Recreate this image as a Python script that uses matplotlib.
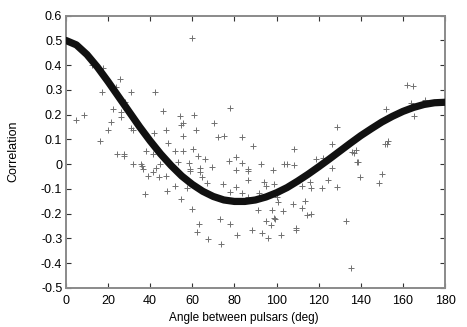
import matplotlib
matplotlib.use("Agg")
import matplotlib.pyplot as plt
from matplotlib.ticker import FuncFormatter

curve_angle = [0, 5, 10, 15, 20, 25, 30, 35, 40, 45, 50, 55, 60, 65, 70, 75, 80, 85, 90,
               95, 100, 105, 110, 115, 120, 125, 130, 135, 140, 145, 150, 155, 160, 165,
               170, 175, 180]
curve_corr = [0.500, 0.482, 0.443, 0.392, 0.334, 0.273, 0.212, 0.151, 0.094, 0.041, -0.006,
              -0.048, -0.082, -0.110, -0.131, -0.145, -0.151, -0.151, -0.145, -0.133, -0.116,
              -0.095, -0.069, -0.041, -0.011, 0.020, 0.052, 0.084, 0.115, 0.143, 0.170, 0.193,
              0.213, 0.229, 0.241, 0.248, 0.250]

# measured pulsar pairs
pair_angle = [4.7, 8.7, 12.2, 17.4, 17.3, 16.3, 20.1, 21.4, 22.4, 25.7, 26.0, 26.4, 24.2,
              27.6, 27.7, 30.9, 30.9, 32.1, 32.0, 35.8, 36.2, 36.8, 37.9, 37.8, 39.1, 41.2,
              41.8, 41.5, 42.5, 43.0, 44.5, 44.2, 24.0, 28.0,
              46.1, 47.5, 47.5, 48.3, 48.2, 51.8, 51.9, 53.0, 54.1, 54.6, 55.4, 55.4, 55.7,
              54.8, 57.4, 58.6, 59.0, 59.0, 59.7, 60.5, 60.9, 61.7, 60.1, 62.8, 63.8, 63.9,
              63.0, 62.2, 64.7, 66.0, 66.9, 67.3, 69.5,
              70.4, 72.4, 73.1, 73.6, 74.4, 75.2, 77.6, 77.9, 77.9, 78.0, 80.6, 81.0, 81.0,
              81.1, 83.4, 83.4, 83.7, 86.3, 86.3, 86.3, 86.6, 88.2, 88.9, 91.5, 91.4, 92.6,
              92.9, 94.2, 95.0, 95.0, 95.8,
              97.3, 97.9, 98.4, 98.8, 98.8, 99.3, 100.0, 100.8, 101.9, 103.2, 103.5, 104.8,
              107.6, 108.3, 108.4, 109.2, 109.4, 111.9, 111.9, 113.6, 114.3, 115.9, 116.6,
              116.3, 118.7,
              121.7, 122.2, 124.4, 126.2, 126.5, 128.5, 128.8, 132.8, 135.3, 135.7, 136.6,
              137.6, 138.2, 138.5, 139.6, 148.6, 150.2, 151.5, 152.3, 152.7, 151.8, 161.8,
              164.6, 163.7, 165.2, 170.5]
pair_corr = [0.180, 0.200, 0.400, 0.390, 0.293, 0.094, 0.138, 0.171, 0.222, 0.345, 0.212,
             0.189, 0.039, 0.040, 0.031, 0.293, 0.145, 0.137, 0.001, 0.000, -0.008, -0.018,
             0.053, -0.122, -0.047, -0.033, 0.127, 0.039, 0.293, -0.014, 0.001, -0.051,
             0.310, 0.250,
             0.215, 0.138, -0.050, 0.087, -0.108, 0.052, -0.090, 0.009, 0.195, 0.160, 0.167,
             0.113, 0.052, -0.140, -0.095, 0.005, -0.018, -0.029, 0.508, 0.060, 0.198, 0.138,
             -0.183, 0.032, -0.015, -0.031, -0.243, -0.275, -0.052, 0.020, -0.077, -0.301,
             -0.011,
             0.167, 0.108, -0.224, -0.324, -0.079, 0.113, 0.013, -0.114, -0.244, 0.227, 0.028,
             -0.025, -0.091, -0.288, 0.006, -0.116, 0.108, -0.018, -0.029, -0.065, -0.135,
             -0.268, 0.072, -0.115, -0.186, 0.002, -0.279, -0.072, -0.090, -0.231, -0.297,
             -0.247, -0.187, -0.025, -0.079, -0.218, -0.224, -0.133, -0.153, -0.285, -0.190,
             0.002, 0.002, -0.160, -0.005, 0.063, -0.258, -0.266, -0.176, -0.090, -0.150,
             -0.207, -0.072, -0.095, -0.203, 0.019,
             -0.095, 0.025, -0.065, -0.014, 0.080, -0.092, 0.151, -0.230, -0.419, 0.050, 0.045,
             0.056, 0.009, 0.008, -0.054, -0.076, -0.042, 0.080, 0.083, 0.092, 0.221, 0.319,
             0.317, 0.248, 0.195, 0.259]

x_ticks = [0, 20, 40, 60, 80, 100, 120, 140, 160, 180]
y_ticks = [-0.5, -0.4, -0.3, -0.2, -0.1, 0, 0.1, 0.2, 0.3, 0.4, 0.5, 0.6]

plt.rcParams['font.family'] = ['Liberation Sans', 'DejaVu Sans']

fig = plt.figure(figsize=(4.67, 3.27), dpi=100)
ax = fig.add_axes([0.141, 0.120, 0.812, 0.832])

ax.plot(pair_angle, pair_corr, linestyle='none', marker='+', markersize=4.5,
        markeredgewidth=0.7, color='#707070', zorder=2)
ax.plot(curve_angle, curve_corr, color='#111111', linewidth=5.2,
        solid_capstyle='round', zorder=3)

ax.set_xlim(0, 180)
ax.set_ylim(-0.5, 0.6)
ax.set_xticks(x_ticks)
ax.set_yticks(y_ticks)
ax.yaxis.set_major_formatter(FuncFormatter(lambda v, p: '%g' % round(v, 2)))

ax.tick_params(direction='in', top=True, right=True, length=3.5, width=0.8,
               color='#333333', labelsize=9)
ax.tick_params(axis='x', pad=5)
ax.tick_params(axis='y', pad=2.5)
for s in ax.spines.values():
    s.set_color('#8a8a8a')
    s.set_linewidth(1.4)

ax.set_xlabel('Angle between pulsars (deg)', fontsize=8.5)
ax.xaxis.set_label_coords(0.47, -0.088)
ax.set_ylabel('Correlation', fontsize=9)
ax.yaxis.set_label_coords(-0.122, 0.5)

fig.savefig('out.png', dpi=100)
